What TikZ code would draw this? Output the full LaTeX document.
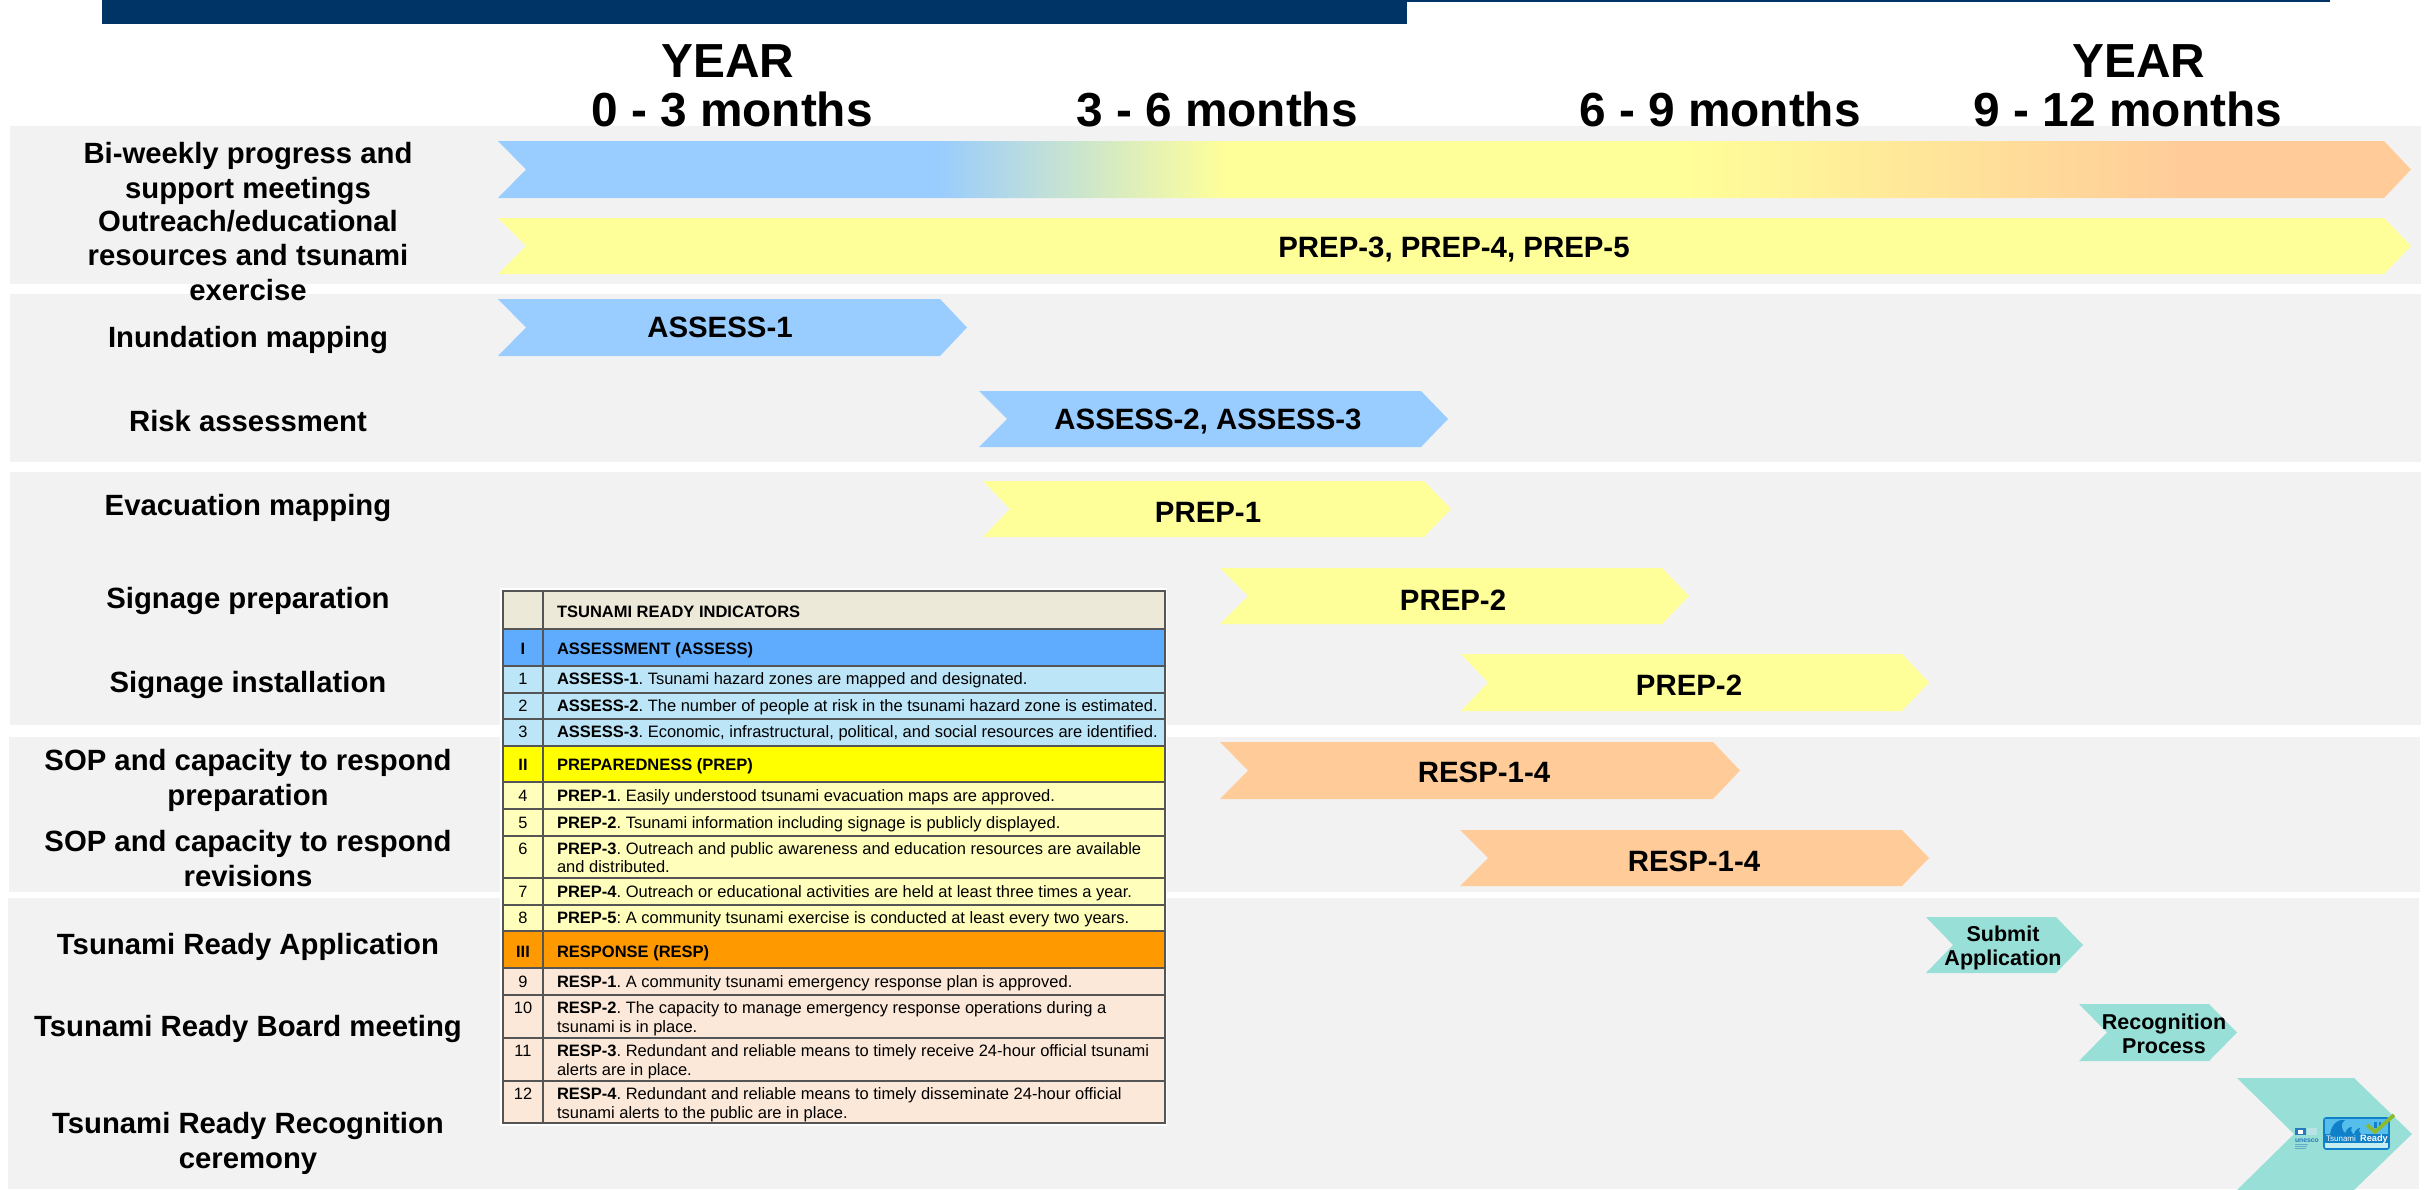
\documentclass[tikz,border=0pt]{standalone}
\usepackage{fontspec}
\setmainfont{Liberation Sans}
\usetikzlibrary{calc}
\definecolor{navy}{HTML}{003366}
\definecolor{bandgrey}{HTML}{F2F2F2}
\definecolor{chblue}{HTML}{99CCFF}
\definecolor{chyellow}{HTML}{FFFF99}
\definecolor{chorange}{HTML}{FFCC99}
\definecolor{chteal}{HTML}{97DFD7}
\definecolor{thead}{HTML}{ECE9D8}
\definecolor{tblue}{HTML}{5FACFF}
\definecolor{tlblue}{HTML}{BDE5F8}
\definecolor{tyellow}{HTML}{FFFF00}
\definecolor{tlyellow}{HTML}{FFFFBB}
\definecolor{torange}{HTML}{FF9900}
\definecolor{tpeach}{HTML}{FCE8D8}
\definecolor{tline}{HTML}{555555}
\definecolor{logoblue}{HTML}{1080C8}
\definecolor{logolight}{HTML}{55BEEB}
\definecolor{logopale}{HTML}{C4EEF0}
\definecolor{unblue}{HTML}{2A78BE}
\definecolor{unpale}{HTML}{B8E2E4}
\definecolor{checkgreen}{HTML}{8DB92E}
\pgfdeclarehorizontalshading{chevgrad}{100bp}{
 color(0bp)=(chblue); color(36.45bp)=(chblue); color(44.05bp)=(chyellow);
 color(55.8bp)=(chyellow); color(69bp)=(chorange); color(100bp)=(chorange)}
\newcommand{\fsz}[2]{\fontsize{#1}{#2}\selectfont}
% \chev{L}{notch}{body}{tip}{top}{bottom}{fill options}
\newcommand{\chev}[7]{\path[#7] (#1,#5) -- (#3,#5) -- (#4,{(#5+#6)/2}) -- (#3,#6) -- (#1,#6) -- (#2,{(#5+#6)/2}) -- cycle;}
% \trow{name}{top}{bottom}{fill}{number}{baseline}{text}
\newcommand{\trow}[7]{%
 \path[tcell,fill=#4] (503,#2) rectangle (543,#3);
 \path[tcell,fill=#4] (543,#2) rectangle (1165,#3);
 \node[tnum] (#1n) at (523,#6) {#5};
 \node[ttext] (#1t) at (557,#6) {#7};}
\tikzset{
 band/.style={fill=bandgrey},
 rowlabel/.style={anchor=base,inner sep=0pt,outer sep=0pt,align=center,font=\fsz{29.3}{34.5}\bfseries},
 headlabel/.style={anchor=base,inner sep=0pt,outer sep=0pt,font=\fsz{47.8}{50}\bfseries},
 chevlabel/.style={anchor=base,inner sep=0pt,outer sep=0pt,font=\fsz{29.4}{32}\bfseries},
 smalllabel/.style={anchor=base,inner sep=0pt,outer sep=0pt,align=center,font=\fsz{21.5}{24}\bfseries},
 tcell/.style={draw=tline,line width=2.4pt},
 tnum/.style={anchor=base,inner sep=0pt,outer sep=0pt,font=\fsz{16.4}{18}},
 ttext/.style={anchor=base west,inner sep=0pt,outer sep=0pt,align=left,font=\frenchspacing\fsz{16.5}{18.5}},
}
\begin{document}
\begin{tikzpicture}[x=1pt,y=-1pt]
\useasboundingbox (0,0) rectangle (2433,1189);
\fill[white] (0,0) rectangle (2433,1189);
% top bars
\fill[navy] (102,0) rectangle (1407,24);
\fill[navy] (1407,0) rectangle (2330,1.5);
% bands
\path[band] (10,126) rectangle (2421,284);
\path[band] (10,294) rectangle (2421,462);
\path[band] (10,472) rectangle (2421,725);
\path[band] (9,737) rectangle (2420,892);
\path[band] (8,898) rectangle (2419,1189);
% headers
\node[headlabel] (year1) at (728,77) {YEAR};
\node[headlabel] (m03) at (732,126) {0 - 3 months};
\node[headlabel] (m36) at (1217,126) {3 - 6 months};
\node[headlabel] (m69) at (1720,126) {6 - 9 months};
\node[headlabel] (year2) at (2139,77) {YEAR};
\node[headlabel] (m912) at (2128,126) {9 - 12 months};
% row labels
\node[rowlabel] (l1) at (248,198) {Bi-weekly progress and\\support meetings};
\node[rowlabel] (l2) at (248,300) {Outreach/educational\\resources and tsunami\\exercise};
\node[rowlabel] (l3) at (248,347) {Inundation mapping};
\node[rowlabel] (l4) at (248,431) {Risk assessment};
\node[rowlabel] (l5) at (248,515) {Evacuation mapping};
\node[rowlabel] (l6) at (248,608) {Signage preparation};
\node[rowlabel] (l7) at (248,692) {Signage installation};
\node[rowlabel] (l8) at (248,805) {SOP and capacity to respond\\preparation};
\node[rowlabel] (l9) at (248,886) {SOP and capacity to respond\\revisions};
\node[rowlabel] (l10) at (248,954) {Tsunami Ready Application};
\node[rowlabel] (l11) at (248,1036) {Tsunami Ready Board meeting};
\node[rowlabel] (l12) at (248,1168) {Tsunami Ready Recognition\\ceremony};
% chevrons
\chev{498}{526}{2384}{2411}{141}{198}{shading=chevgrad}
\chev{498}{526}{2384}{2411}{218}{274}{fill=chyellow}
\chev{498}{526}{940}{967}{299}{356}{fill=chblue}
\chev{979}{1007}{1421}{1448}{391}{447}{fill=chblue}
\chev{983}{1010}{1424}{1451}{481}{537}{fill=chyellow}
\chev{1220}{1248}{1662}{1689}{568}{624}{fill=chyellow}
\chev{1461}{1488}{1902}{1929}{654}{711}{fill=chyellow}
\chev{1220}{1248}{1713}{1740}{742}{799}{fill=chorange}
\chev{1460}{1488}{1902}{1929}{830}{886}{fill=chorange}
\chev{1926}{1953}{2056}{2083}{917}{973}{fill=chteal}
\chev{2079}{2107}{2209}{2237}{1004}{1061}{fill=chteal}
\begin{scope}
\clip (0,0) rectangle (2433,1189);
\chev{2237}{2294}{2354}{2412}{1078}{1190}{fill=chteal}
\end{scope}
\node[chevlabel] (c2) at (1454,257) {PREP-3, PREP-4, PREP-5};
\node[chevlabel] (c3) at (720,337) {ASSESS-1};
\node[chevlabel] (c4) at (1208,429) {ASSESS-2, ASSESS-3};
\node[chevlabel] (c5) at (1208,522) {PREP-1};
\node[chevlabel] (c6) at (1453,610) {PREP-2};
\node[chevlabel] (c7) at (1689,695) {PREP-2};
\node[chevlabel] (c8) at (1484,782) {RESP-1-4};
\node[chevlabel] (c9) at (1694,871) {RESP-1-4};
\node[smalllabel] (c10) at (2003,965) {Submit\\Application};
\node[smalllabel] (c11) at (2164,1053) {Recognition\\Process};
% logos
\fill[unblue] (2295,1128) rectangle (2306,1135);
\fill[white] (2298,1130) rectangle (2303,1134);
\fill[unpale] (2307,1128) rectangle (2317,1135);
\node[anchor=base west,inner sep=0pt,outer sep=0pt,text=unblue,font=\fsz{6.8}{8}\bfseries] (unesco) at (2295,1142) {unesco};
\foreach \yy/\xe in {1144.5/2308,1146.5/2307,1148.5/2306}
  \draw[unblue!50!chteal,line width=0.8pt] (2295,\yy) -- (\xe,\yy);
\path[fill=logopale,draw=logoblue,line width=1.6pt,rounded corners=2pt] (2324,1118) rectangle (2389,1149);
\fill[logolight] (2325,1119) rectangle (2388,1134);
\fill[logoblue] (2325,1134) rectangle (2388,1143);
\fill[logoblue] (2330,1134) .. controls (2332,1122) and (2340,1119) .. (2345,1120) .. controls (2340,1123) and (2341,1130) .. (2346,1134) -- cycle;
\fill[logoblue] (2345,1134) .. controls (2346,1129) and (2349,1127) .. (2352,1127) .. controls (2350,1129) and (2351,1132) .. (2353,1134) -- cycle;
\fill[logoblue] (2354,1134) .. controls (2355,1130) and (2358,1128) .. (2360,1128) .. controls (2358,1130) and (2359,1132) .. (2361,1134) -- cycle;
\fill[logoblue] (2374,1122) rectangle (2377,1128);
\fill[logoblue] (2379,1122) rectangle (2381,1128);
\node[anchor=base,inner sep=0pt,outer sep=0pt,text=white,font=\fsz{8}{9}] (tsu) at (2341,1141) {Tsunami};
\node[anchor=base,inner sep=0pt,outer sep=0pt,text=white,font=\fsz{9.2}{10}\bfseries] (rdy) at (2374,1141) {Ready};
\draw[checkgreen,line width=3.6pt] (2367,1125) -- (2375,1132) -- (2394,1115);
% table
\fill[white] (500,588) rectangle (1167,1126);
\trow{h}{591}{629}{thead}{}{617}{\textbf{TSUNAMI READY INDICATORS}}
\trow{a}{629}{666}{tblue}{\textbf{I}}{654}{\textbf{ASSESSMENT (ASSESS)}}
\trow{a1}{666}{693}{tlblue}{1}{684}{\textbf{ASSESS-1}. Tsunami hazard zones are mapped and designated.}
\trow{a2}{693}{719}{tlblue}{2}{711}{\textbf{ASSESS-2}. The number of people at risk in the tsunami hazard zone is estimated.}
\trow{a3}{719}{746}{tlblue}{3}{737}{\textbf{ASSESS-3}. Economic, infrastructural, political, and social resources are identified.}
\trow{p}{746}{782}{tyellow}{\textbf{II}}{770}{\textbf{PREPAREDNESS (PREP)}}
\trow{p1}{782}{809}{tlyellow}{4}{801}{\textbf{PREP-1}. Easily understood tsunami evacuation maps are approved.}
\trow{p2}{809}{836}{tlyellow}{5}{828}{\textbf{PREP-2}. Tsunami information including signage is publicly displayed.}
\trow{p3}{836}{878}{tlyellow}{6}{854}{\textbf{PREP-3}. Outreach and public awareness and education resources are available}
\node[ttext] (p3b) at (557,872) {and distributed.};
\trow{p4}{878}{905}{tlyellow}{7}{897}{\textbf{PREP-4}. Outreach or educational activities are held at least three times a year.}
\trow{p5}{905}{931}{tlyellow}{8}{923}{\textbf{PREP-5}: A community tsunami exercise is conducted at least every two years.}
\trow{r}{931}{968}{torange}{\textbf{III}}{957}{\textbf{RESPONSE (RESP)}}
\trow{r1}{968}{995}{tpeach}{9}{987}{\textbf{RESP-1}. A community tsunami emergency response plan is approved.}
\trow{r2}{995}{1038}{tpeach}{10}{1013}{\textbf{RESP-2}. The capacity to manage emergency response operations during a}
\node[ttext] (r2b) at (557,1032) {tsunami is in place.};
\trow{r3}{1038}{1081}{tpeach}{11}{1056}{\textbf{RESP-3}. Redundant and reliable means to timely receive 24-hour official tsunami}
\node[ttext] (r3b) at (557,1075) {alerts are in place.};
\trow{r4}{1081}{1123}{tpeach}{12}{1099}{\textbf{RESP-4}. Redundant and reliable means to timely disseminate 24-hour official}
\node[ttext] (r4b) at (557,1118) {tsunami alerts to the public are in place.};
\end{tikzpicture}
\end{document}
